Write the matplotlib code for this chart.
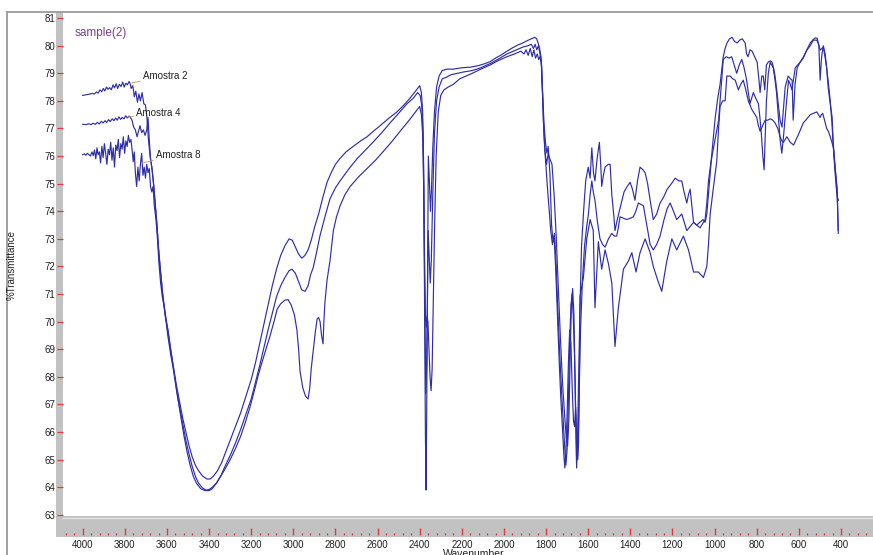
import numpy as np
import matplotlib
matplotlib.use('Agg')
import matplotlib.pyplot as plt
from matplotlib.patches import Rectangle
from matplotlib.lines import Line2D
from matplotlib.ticker import MultipleLocator

# espectros FTIR (numero de onda cm-1, %T)
amostra2 = [
    (4000, 78.20), (3985, 78.22), (3970, 78.24), (3955, 78.27), (3945, 78.25), (3935, 78.32),
    (3927, 78.28), (3918, 78.40), (3910, 78.33), (3902, 78.45), (3895, 78.36), (3887, 78.50),
    (3880, 78.42), (3872, 78.48), (3864, 78.40), (3856, 78.58), (3849, 78.47), (3841, 78.62),
    (3834, 78.45), (3826, 78.60), (3818, 78.52), (3810, 78.68), (3803, 78.50), (3795, 78.64),
    (3788, 78.58), (3780, 78.70), (3775, 78.63), (3770, 78.45), (3762, 78.55), (3755, 78.15),
    (3748, 78.35), (3740, 77.95), (3733, 78.25), (3726, 78.00), (3718, 78.30), (3710, 77.90),
    (3702, 77.85), (3695, 77.40), (3688, 76.60), (3680, 76.00), (3672, 75.60), (3664, 75.00),
    (3656, 74.30), (3648, 73.60), (3640, 72.70), (3630, 71.80), (3620, 71.00), (3610, 70.40),
    (3600, 69.90), (3585, 69.10), (3570, 68.40), (3555, 67.70), (3540, 67.10), (3525, 66.50),
    (3510, 66.00), (3495, 65.50), (3480, 65.10), (3465, 64.80), (3450, 64.60), (3430, 64.40),
    (3410, 64.30), (3395, 64.30), (3380, 64.40), (3360, 64.60), (3340, 64.90), (3320, 65.30),
    (3300, 65.70), (3275, 66.20), (3250, 66.70), (3225, 67.30), (3200, 67.90), (3180, 68.50),
    (3160, 69.20), (3140, 69.90), (3120, 70.60), (3100, 71.30), (3080, 71.90), (3060, 72.40),
    (3040, 72.75), (3020, 73.00), (3005, 72.95), (2990, 72.70), (2975, 72.45), (2960, 72.30),
    (2945, 72.40), (2930, 72.60), (2915, 72.95), (2900, 73.40), (2880, 73.90), (2860, 74.50),
    (2840, 75.05), (2820, 75.40), (2800, 75.70), (2780, 75.90), (2750, 76.15), (2716, 76.35),
    (2680, 76.55), (2650, 76.70), (2620, 76.90), (2588, 77.10), (2550, 77.35), (2508, 77.60),
    (2475, 77.85), (2446, 78.10), (2420, 78.35), (2400, 78.55), (2392, 78.30), (2386, 77.60),
    (2381, 75.50), (2377, 71.00), (2373, 66.00), (2370, 63.90), (2367, 66.50), (2363, 71.50),
    (2359, 76.00), (2354, 75.10), (2349, 74.00), (2344, 74.80), (2338, 76.30), (2330, 77.60),
    (2320, 78.50), (2308, 78.90), (2293, 79.10), (2270, 79.15), (2240, 79.15), (2200, 79.20),
    (2160, 79.22), (2120, 79.28), (2090, 79.35), (2066, 79.42), (2040, 79.55), (2010, 79.68),
    (1986, 79.80), (1960, 79.92), (1935, 80.02), (1910, 80.10), (1890, 80.18), (1870, 80.25),
    (1853, 80.30), (1845, 80.25), (1838, 80.10), (1831, 79.90), (1824, 79.60), (1818, 78.50),
    (1813, 77.30), (1806, 76.20), (1798, 75.70), (1790, 76.10), (1782, 75.90), (1772, 75.70),
    (1762, 74.60), (1752, 73.10), (1742, 71.20), (1732, 69.40), (1722, 67.80), (1712, 66.60),
    (1704, 65.80), (1698, 65.50), (1692, 66.40), (1686, 68.60), (1680, 70.60), (1674, 71.20),
    (1668, 70.30), (1662, 67.80), (1658, 65.60), (1655, 64.70), (1651, 65.60), (1646, 67.80),
    (1640, 70.20), (1632, 72.70), (1622, 74.00), (1612, 75.10), (1600, 75.60), (1591, 75.20),
    (1583, 76.30), (1575, 75.40), (1568, 75.10), (1558, 75.90), (1547, 76.50), (1540, 75.60),
    (1536, 74.90), (1528, 75.30), (1520, 75.60), (1505, 75.70), (1496, 75.70), (1488, 74.60),
    (1478, 73.80), (1473, 73.30), (1462, 73.70), (1449, 74.10), (1430, 74.70), (1415, 74.90),
    (1401, 75.05), (1390, 74.80), (1378, 74.40), (1366, 75.10), (1354, 75.60), (1340, 75.50),
    (1330, 75.40), (1318, 75.00), (1306, 74.40), (1291, 73.70), (1275, 73.90), (1259, 74.30),
    (1243, 74.50), (1225, 74.80), (1205, 75.00), (1187, 75.20), (1170, 75.10), (1156, 75.10),
    (1145, 74.70), (1132, 74.30), (1124, 74.60), (1116, 74.80), (1108, 74.20), (1100, 73.60),
    (1085, 73.50), (1070, 73.60), (1055, 73.70), (1045, 73.60), (1037, 73.90), (1025, 75.00),
    (1013, 76.10), (997, 77.40), (985, 78.10), (974, 78.60), (959, 79.60), (950, 79.90),
    (941, 80.10), (929, 80.25), (917, 80.30), (905, 80.15), (893, 80.10), (881, 80.20),
    (869, 80.25), (855, 80.10), (848, 79.70), (841, 79.60), (832, 79.85), (822, 79.80),
    (810, 79.60), (798, 79.40), (790, 78.80), (784, 78.30), (776, 78.90), (769, 78.90),
    (762, 78.40), (754, 79.30), (746, 79.40), (736, 79.45), (727, 79.40), (720, 79.20),
    (713, 78.90), (705, 78.40), (698, 77.90), (689, 77.30), (680, 77.05), (672, 77.80),
    (665, 78.50), (651, 78.90), (640, 78.80), (632, 78.75), (627, 77.30), (618, 78.60),
    (608, 79.20), (594, 79.40), (579, 79.55), (562, 79.85), (546, 80.10), (532, 80.22),
    (522, 80.28), (513, 80.27), (505, 80.00), (499, 78.75), (492, 79.60), (484, 80.00),
    (475, 79.70), (468, 79.20), (461, 78.50), (451, 77.90), (442, 77.40), (437, 76.50),
    (428, 75.60), (418, 74.80), (413, 73.30),
]

amostra4 = [
    (4000, 77.15), (3985, 77.14), (3972, 77.17), (3960, 77.14), (3950, 77.19), (3940, 77.15),
    (3930, 77.22), (3921, 77.16), (3912, 77.26), (3903, 77.20), (3894, 77.28), (3886, 77.22),
    (3877, 77.32), (3869, 77.25), (3860, 77.35), (3852, 77.28), (3844, 77.38), (3836, 77.30),
    (3828, 77.42), (3820, 77.33), (3812, 77.40), (3804, 77.35), (3796, 77.46), (3788, 77.38),
    (3780, 77.45), (3775, 77.42), (3766, 77.30), (3758, 77.05), (3750, 76.95), (3742, 76.70),
    (3735, 76.90), (3728, 77.10), (3720, 76.85), (3712, 76.95), (3704, 76.75), (3696, 76.95),
    (3690, 77.40), (3684, 76.60), (3678, 75.90), (3670, 75.50), (3662, 74.90), (3654, 74.10),
    (3646, 73.30), (3638, 72.40), (3628, 71.60), (3618, 70.80), (3606, 70.10), (3595, 69.70),
    (3580, 68.90), (3565, 68.10), (3550, 67.30), (3535, 66.60), (3520, 65.90), (3505, 65.30),
    (3490, 64.80), (3475, 64.40), (3460, 64.15), (3440, 63.95), (3420, 63.88), (3400, 63.88),
    (3385, 63.95), (3365, 64.15), (3345, 64.40), (3325, 64.75), (3300, 65.15), (3275, 65.60),
    (3250, 66.10), (3225, 66.65), (3200, 67.20), (3180, 67.80), (3160, 68.40), (3140, 69.05),
    (3120, 69.70), (3100, 70.30), (3080, 70.90), (3060, 71.30), (3040, 71.60), (3020, 71.85),
    (3006, 71.90), (2990, 71.75), (2975, 71.45), (2960, 71.15), (2944, 71.10), (2930, 71.30),
    (2918, 71.70), (2906, 71.95), (2890, 72.50), (2874, 73.10), (2850, 73.80), (2826, 74.45),
    (2800, 74.85), (2778, 75.10), (2740, 75.50), (2698, 75.90), (2660, 76.20), (2622, 76.50),
    (2580, 76.85), (2541, 77.20), (2500, 77.55), (2460, 77.90), (2430, 78.10), (2410, 78.30),
    (2398, 78.20), (2390, 77.80), (2384, 76.80), (2379, 73.50), (2375, 70.00), (2371, 67.40),
    (2367, 68.50), (2363, 71.00), (2360, 73.30), (2355, 72.30), (2350, 71.40), (2345, 72.20),
    (2338, 74.60), (2330, 76.80), (2320, 78.00), (2308, 78.50), (2293, 78.80), (2275, 78.85),
    (2250, 78.95), (2220, 79.00), (2190, 79.05), (2150, 79.10), (2110, 79.20), (2066, 79.35),
    (2030, 79.50), (1986, 79.70), (1950, 79.82), (1910, 79.95), (1885, 80.00), (1870, 80.05),
    (1860, 79.90), (1852, 80.05), (1844, 79.85), (1836, 80.00), (1829, 79.70), (1822, 79.40),
    (1816, 78.20), (1810, 77.20), (1803, 76.50), (1796, 76.10), (1790, 76.35), (1782, 75.40),
    (1774, 73.50), (1767, 72.90), (1760, 73.20), (1752, 72.00), (1744, 70.40), (1735, 68.80),
    (1726, 67.40), (1718, 66.30), (1712, 65.50), (1706, 64.80), (1700, 65.40), (1694, 67.20),
    (1688, 69.30), (1682, 70.60), (1677, 71.00), (1671, 70.20), (1665, 68.70), (1660, 66.90),
    (1655, 65.50), (1651, 65.00), (1647, 65.80), (1642, 67.80), (1636, 69.80), (1628, 71.40),
    (1618, 72.70), (1608, 73.40), (1599, 73.90), (1591, 74.60), (1583, 75.10), (1576, 74.70),
    (1568, 74.40), (1556, 73.60), (1544, 73.00), (1532, 72.80), (1520, 72.70), (1504, 73.00),
    (1488, 73.20), (1476, 73.10), (1465, 73.10), (1457, 73.40), (1449, 73.80), (1433, 73.75),
    (1417, 73.70), (1400, 73.75), (1386, 73.80), (1374, 74.00), (1362, 74.30), (1350, 74.25),
    (1338, 74.20), (1322, 73.50), (1306, 72.80), (1291, 72.60), (1275, 72.80), (1259, 73.10),
    (1240, 73.70), (1225, 74.10), (1211, 74.30), (1195, 74.00), (1180, 73.70), (1168, 73.80),
    (1156, 73.90), (1144, 73.60), (1132, 73.30), (1116, 73.45), (1100, 73.60), (1085, 73.50),
    (1069, 73.40), (1057, 73.55), (1045, 73.70), (1037, 74.30), (1029, 75.10), (1017, 75.80),
    (1005, 76.30), (993, 76.80), (981, 77.30), (970, 78.40), (959, 79.50), (945, 79.60),
    (931, 79.55), (919, 79.60), (907, 79.30), (895, 79.00), (883, 79.30), (871, 79.50),
    (860, 79.20), (848, 78.75), (840, 78.30), (832, 77.90), (824, 78.10), (816, 78.30),
    (805, 78.10), (792, 77.90), (785, 77.40), (778, 76.80), (771, 76.00), (765, 75.50),
    (760, 76.60), (754, 78.00), (745, 79.00), (736, 79.40), (729, 79.30), (722, 79.20),
    (714, 78.80), (706, 78.30), (697, 77.40), (689, 76.60), (681, 76.10), (673, 76.70),
    (665, 77.40), (657, 78.10), (649, 78.75), (641, 78.60), (633, 78.40), (625, 78.80),
    (617, 79.20), (606, 79.30), (594, 79.40), (578, 79.60), (562, 79.84), (546, 80.00),
    (531, 80.20), (515, 80.20), (506, 80.05), (499, 79.84), (491, 79.90), (484, 79.95),
    (476, 79.60), (468, 79.20), (459, 78.60), (451, 78.00), (443, 77.20), (436, 76.30),
    (429, 75.50), (423, 74.90), (417, 74.50), (412, 74.40),
]

amostra8 = [
    (4000, 76.05), (3992, 76.08), (3985, 76.03), (3978, 76.10), (3970, 76.05), (3963, 76.00),
    (3956, 76.15), (3950, 76.02), (3944, 76.22), (3938, 75.90), (3932, 76.30), (3927, 76.05),
    (3921, 76.15), (3915, 75.75), (3909, 76.35), (3903, 75.95), (3897, 76.45), (3891, 76.10),
    (3885, 75.70), (3879, 76.25), (3873, 76.05), (3867, 76.50), (3861, 75.85), (3855, 76.30),
    (3849, 75.60), (3843, 76.40), (3837, 76.20), (3831, 76.60), (3825, 75.95), (3819, 76.45),
    (3813, 76.25), (3807, 76.70), (3801, 76.10), (3795, 76.55), (3789, 76.35), (3783, 76.75),
    (3777, 76.50), (3771, 76.60), (3765, 76.20), (3760, 75.80), (3755, 76.15),
    (3750, 75.40), (3744, 74.90), (3738, 75.60), (3732, 75.10), (3726, 75.70), (3720, 76.10),
    (3714, 75.30), (3708, 75.60), (3702, 75.20), (3696, 75.70), (3690, 75.40), (3684, 75.55),
    (3678, 74.90), (3672, 74.70), (3666, 74.90), (3660, 74.20), (3652, 73.70), (3645, 73.00),
    (3638, 72.10), (3630, 71.40), (3622, 70.90), (3614, 70.60), (3606, 70.10), (3596, 69.50),
    (3582, 68.80), (3568, 68.20), (3554, 67.50), (3540, 66.90), (3525, 66.30), (3510, 65.70),
    (3495, 65.20), (3480, 64.75), (3465, 64.40), (3450, 64.15), (3432, 63.98), (3415, 63.90),
    (3400, 63.92), (3385, 64.00), (3365, 64.15), (3345, 64.40), (3325, 64.65), (3300, 65.00),
    (3275, 65.40), (3250, 65.85), (3228, 66.35), (3206, 66.90), (3185, 67.50), (3165, 68.10),
    (3150, 68.50), (3130, 69.00), (3110, 69.50), (3090, 70.05), (3077, 70.45), (3060, 70.65),
    (3040, 70.78), (3025, 70.80), (3010, 70.60), (2995, 70.25), (2983, 69.70), (2975, 69.00),
    (2968, 68.20), (2955, 67.60), (2942, 67.30), (2930, 67.20), (2922, 67.60), (2915, 68.30),
    (2906, 68.90), (2896, 69.60), (2887, 70.10), (2880, 70.15), (2873, 70.00), (2866, 69.50),
    (2859, 69.20), (2855, 70.00), (2850, 70.70), (2840, 71.50), (2826, 72.20), (2810, 73.30),
    (2795, 73.80), (2778, 74.20), (2755, 74.60), (2730, 74.90), (2690, 75.25), (2650, 75.55),
    (2610, 75.85), (2575, 76.15), (2535, 76.50), (2493, 76.90), (2450, 77.30), (2420, 77.60),
    (2400, 77.80), (2392, 77.50), (2386, 76.80), (2381, 74.80), (2377, 72.30), (2373, 70.20),
    (2369, 69.80), (2365, 70.20), (2361, 70.00), (2356, 69.00), (2351, 68.00), (2346, 67.50),
    (2341, 68.30), (2336, 70.50), (2330, 73.20), (2322, 76.00), (2312, 77.60), (2300, 78.20),
    (2285, 78.40), (2265, 78.50), (2240, 78.60), (2210, 78.80), (2180, 78.90), (2150, 79.00),
    (2110, 79.15), (2066, 79.30), (2030, 79.45), (1986, 79.60), (1950, 79.70), (1920, 79.80),
    (1905, 79.70), (1895, 79.85), (1885, 79.65), (1875, 79.90), (1866, 79.60), (1858, 79.85),
    (1850, 79.55), (1842, 79.70), (1835, 79.50), (1829, 79.60), (1822, 79.30), (1816, 78.00),
    (1810, 76.80), (1803, 75.90), (1795, 75.00), (1786, 74.10), (1778, 73.30), (1770, 72.80),
    (1762, 73.10), (1755, 72.00), (1746, 70.20), (1738, 68.60), (1730, 67.20), (1722, 66.10),
    (1716, 65.20), (1711, 64.70), (1706, 65.30), (1700, 66.70), (1694, 68.50), (1688, 69.70),
    (1682, 69.20), (1676, 67.60), (1670, 66.40), (1665, 66.20), (1660, 66.90), (1655, 66.00),
    (1650, 65.00), (1646, 65.60), (1642, 68.00), (1639, 70.90), (1623, 71.60), (1607, 73.00),
    (1591, 73.70), (1576, 73.30), (1568, 70.50), (1552, 72.90), (1536, 71.90), (1520, 72.60),
    (1504, 72.10), (1488, 71.40), (1473, 69.10), (1457, 70.50), (1433, 71.90), (1409, 72.20),
    (1393, 72.50), (1373, 71.80), (1354, 72.50), (1330, 73.00), (1306, 72.50), (1291, 72.00),
    (1270, 71.50), (1251, 71.10), (1227, 72.20), (1203, 73.00), (1180, 72.60), (1148, 73.10),
    (1124, 72.60), (1100, 71.80), (1077, 71.80), (1053, 71.60), (1037, 72.00), (1029, 72.80),
    (1021, 73.90), (1005, 74.90), (990, 75.80), (982, 76.90), (974, 77.80), (962, 78.00),
    (950, 78.00), (942, 78.90), (926, 78.90), (914, 78.80), (902, 78.75), (887, 78.40),
    (876, 78.60), (864, 78.75), (852, 78.40), (840, 78.00), (824, 77.70), (812, 77.55),
    (800, 77.40), (792, 77.10), (784, 76.90), (772, 77.10), (760, 77.30), (748, 77.30),
    (736, 77.35), (724, 77.30), (713, 77.20), (700, 77.00), (689, 76.70), (681, 76.55),
    (673, 76.50), (665, 76.60), (657, 76.70), (649, 76.60), (641, 76.50), (633, 76.45),
    (625, 76.40), (613, 76.60), (601, 76.80), (590, 77.00), (579, 77.20), (562, 77.35),
    (546, 77.50), (530, 77.55), (515, 77.60), (507, 77.50), (499, 77.40), (493, 77.50),
    (487, 77.55), (478, 77.30), (468, 77.00), (460, 76.90), (451, 76.70), (443, 76.50),
    (436, 76.30), (428, 75.60), (420, 74.90), (416, 74.10), (413, 73.20),
]

# etiquetas: (texto, punto en la curva, posicion del texto)
etiquetas = [
    ('Amostra 2', (3775, 78.64), (3713, 78.90)),
    ('Amostra 4', (3785, 77.41), (3747, 77.56)),
    ('Amostra 8', (3718, 75.75), (3652, 76.04)),
]

xticks = np.arange(400, 4001, 200)
yticks = np.arange(63, 82, 1)

plt.rcParams['font.family'] = ['Liberation Sans', 'DejaVu Sans']

W, H = 873, 555
fig = plt.figure(figsize=(W / 100, H / 100), dpi=100)


def fx(px):
    return px / W


def fy(py):
    return 1 - py / H


ax = fig.add_axes([fx(63), fy(516), fx(873) - fx(63), fy(12) - fy(516)])

azul = '#2e2ea8'
for datos in (amostra8, amostra4, amostra2):
    d = np.array(datos)
    ax.plot(d[:, 0], d[:, 1], color=azul, lw=0.85)

ax.set_xlim(4093.5, 248)
ax.set_ylim(62.96, 81.22)

for s in ax.spines.values():
    s.set_visible(False)
ax.spines['bottom'].set_position(('outward', 13.7))

rojo = '#e03a3a'
ax.set_xticks(xticks)
ax.xaxis.set_minor_locator(MultipleLocator(40))
ax.tick_params(axis='x', which='major', direction='in', length=5, width=1.0,
               color=rojo, labelsize=7, pad=3.5, labelcolor='#202020')
ax.tick_params(axis='x', which='minor', direction='in', length=1.8, width=0.9, color=rojo)
ax.set_yticks(yticks)
ax.tick_params(axis='y', direction='out', length=4.5, width=0.9, color=rojo,
               labelsize=7, pad=1.2, labelcolor='#202020')

for texto, xy, xyt in etiquetas:
    ax.annotate(texto, xy=xy, xytext=xyt, textcoords='data', fontsize=7, ha='left',
                va='center', color='#202020',
                arrowprops=dict(arrowstyle='-', color='#d8a070', lw=0.7,
                                shrinkA=0, shrinkB=0))

# barras grises de los ejes y marco exterior
gris = '#c2c2c2'
fig.add_artist(Rectangle((fx(56), fy(537)), fx(873) - fx(56), fy(516) - fy(537),
                         transform=fig.transFigure, facecolor=gris, edgecolor='none', zorder=-1))
fig.add_artist(Rectangle((fx(56), fy(537)), fx(63) - fx(56), fy(12) - fy(537),
                         transform=fig.transFigure, facecolor=gris, edgecolor='none', zorder=-1))
fig.add_artist(Line2D([fx(63), 1], [fy(518), fy(518)], transform=fig.transFigure,
                      color='#e2e2e2', lw=1.0, zorder=-0.5))
fig.add_artist(Line2D([fx(7), fx(7)], [0, fy(12)], transform=fig.transFigure,
                      color='#9a9a9a', lw=1.3))
fig.add_artist(Line2D([fx(7), 1], [fy(12), fy(12)], transform=fig.transFigure,
                      color='#9a9a9a', lw=1.3))

fig.text(fx(12), fy(265), '%Transmittance', rotation=90, ha='center', va='center',
         fontsize=7, color='#202020')
# en la referencia el titulo del eje x queda medio cortado por el borde inferior
fig.text(fx(443), fy(549), 'Wavenumber', ha='left', va='top', fontsize=7.5, color='#202020')
fig.text(fx(75), fy(33), 'sample(2)', ha='left', va='center', fontsize=8.5, color='#7a4088')

fig.savefig('out.png', dpi=100)
